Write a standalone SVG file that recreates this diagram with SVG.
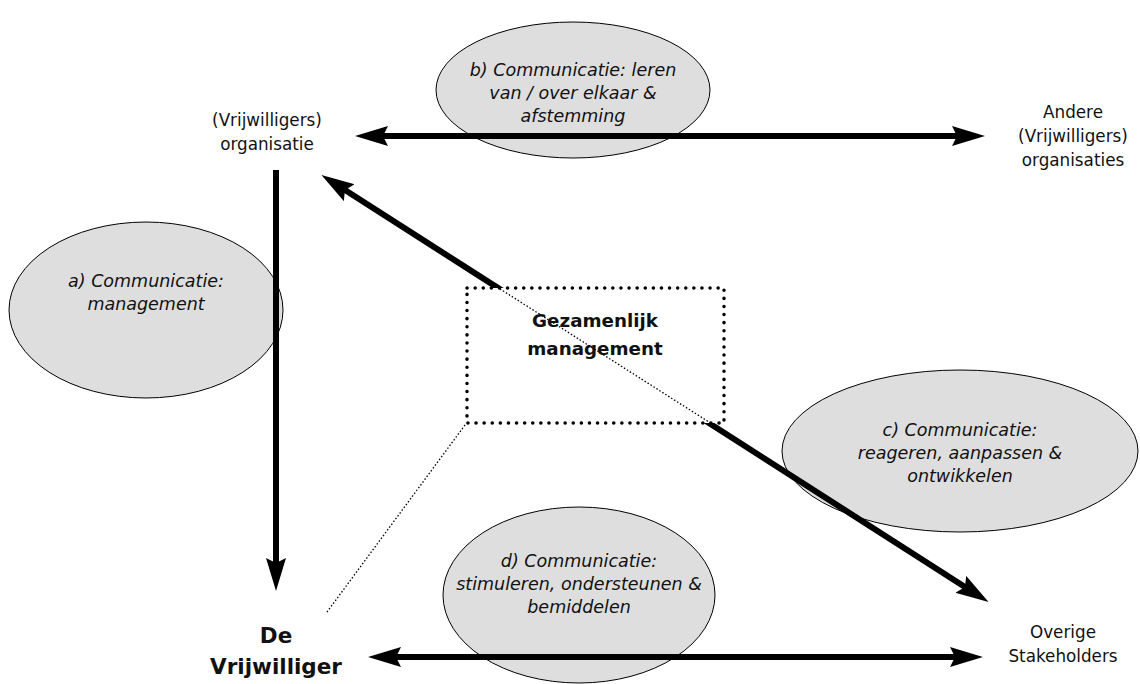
<svg xmlns="http://www.w3.org/2000/svg" width="1140" height="684" viewBox="0 0 1140 684">
<style>
.ell{fill:#dedede;stroke:#000;stroke-width:1}
.arr{stroke:#000;stroke-width:6;fill:none}
.it{font-family:"DejaVu Sans",sans-serif;font-style:italic;font-size:17.5px;fill:#111;text-anchor:middle}
.lb{font-family:"DejaVu Sans",sans-serif;font-size:16.8px;fill:#111;text-anchor:middle}
.bd{font-family:"DejaVu Sans",sans-serif;font-weight:bold;fill:#111;text-anchor:middle}
.thin{stroke:#000;stroke-width:1.3;stroke-dasharray:1.5 2;fill:none}
</style>
<defs>
<marker id="ah" markerUnits="userSpaceOnUse" markerWidth="34" markerHeight="22" refX="5" refY="10" orient="auto-start-reverse" viewBox="0 0 34 22">
<path d="M0,0 L33,10 L0,20 L5,10 Z" fill="#000"/>
</marker>
</defs>
<g id="ellipse-a"><ellipse class="ell" cx="146" cy="310" rx="137" ry="88"/></g>
<g id="ellipse-b"><ellipse class="ell" cx="573" cy="90" rx="137" ry="68"/></g>
<g id="ellipse-c"><ellipse class="ell" cx="960" cy="451" rx="178" ry="81"/></g>
<g id="ellipse-d"><ellipse class="ell" cx="579" cy="595" rx="136" ry="88"/></g>
<g id="connectors">
<line class="arr" x1="383" y1="136" x2="957" y2="136" marker-start="url(#ah)" marker-end="url(#ah)"/>
<line class="arr" x1="276" y1="170" x2="276" y2="563" marker-end="url(#ah)"/>
<line class="arr" x1="345" y1="190" x2="965" y2="587" marker-start="url(#ah)" marker-end="url(#ah)"/>
<line class="arr" x1="396" y1="657" x2="955" y2="657" marker-start="url(#ah)" marker-end="url(#ah)"/>
</g>
<g id="gezamenlijk">
<rect x="467" y="288" width="257" height="135" fill="#fff" stroke="#000" stroke-width="3.5" stroke-dasharray="0.1 8" stroke-linecap="round"/>
<line class="thin" x1="497" y1="287" x2="712" y2="424"/>
<line class="thin" x1="465" y1="425" x2="327" y2="612"/>
<text class="bd" font-size="18.3" x="595" y="327">Gezamenlijk</text>
<text class="bd" font-size="18.3" x="595" y="355">management</text>
</g>
<g id="text-a"><text class="it" x="146" y="287">a) Communicatie:</text><text class="it" x="146" y="310">management</text></g>
<g id="text-b"><text class="it" x="573" y="76">b) Communicatie: leren</text><text class="it" x="573" y="99">van / over elkaar &amp;</text><text class="it" x="573" y="122">afstemming</text></g>
<g id="text-c"><text class="it" x="960" y="436">c) Communicatie:</text><text class="it" x="960" y="459">reageren, aanpassen &amp;</text><text class="it" x="960" y="482">ontwikkelen</text></g>
<g id="text-d"><text class="it" x="579" y="567">d) Communicatie:</text><text class="it" x="579" y="590">stimuleren, ondersteunen &amp;</text><text class="it" x="579" y="613">bemiddelen</text></g>
<g id="node-organisatie"><text class="lb" x="267" y="126">(Vrijwilligers)</text><text class="lb" x="267" y="150">organisatie</text></g>
<g id="node-andere"><text class="lb" x="1073" y="118">Andere</text><text class="lb" x="1073" y="142">(Vrijwilligers)</text><text class="lb" x="1073" y="166">organisaties</text></g>
<g id="node-overige"><text class="lb" x="1063" y="638">Overige</text><text class="lb" x="1063" y="662">Stakeholders</text></g>
<g id="node-vrijwilliger"><text class="bd" font-size="21.5" x="276" y="643">De</text><text class="bd" font-size="21.5" x="276" y="674">Vrijwilliger</text></g>
</svg>
